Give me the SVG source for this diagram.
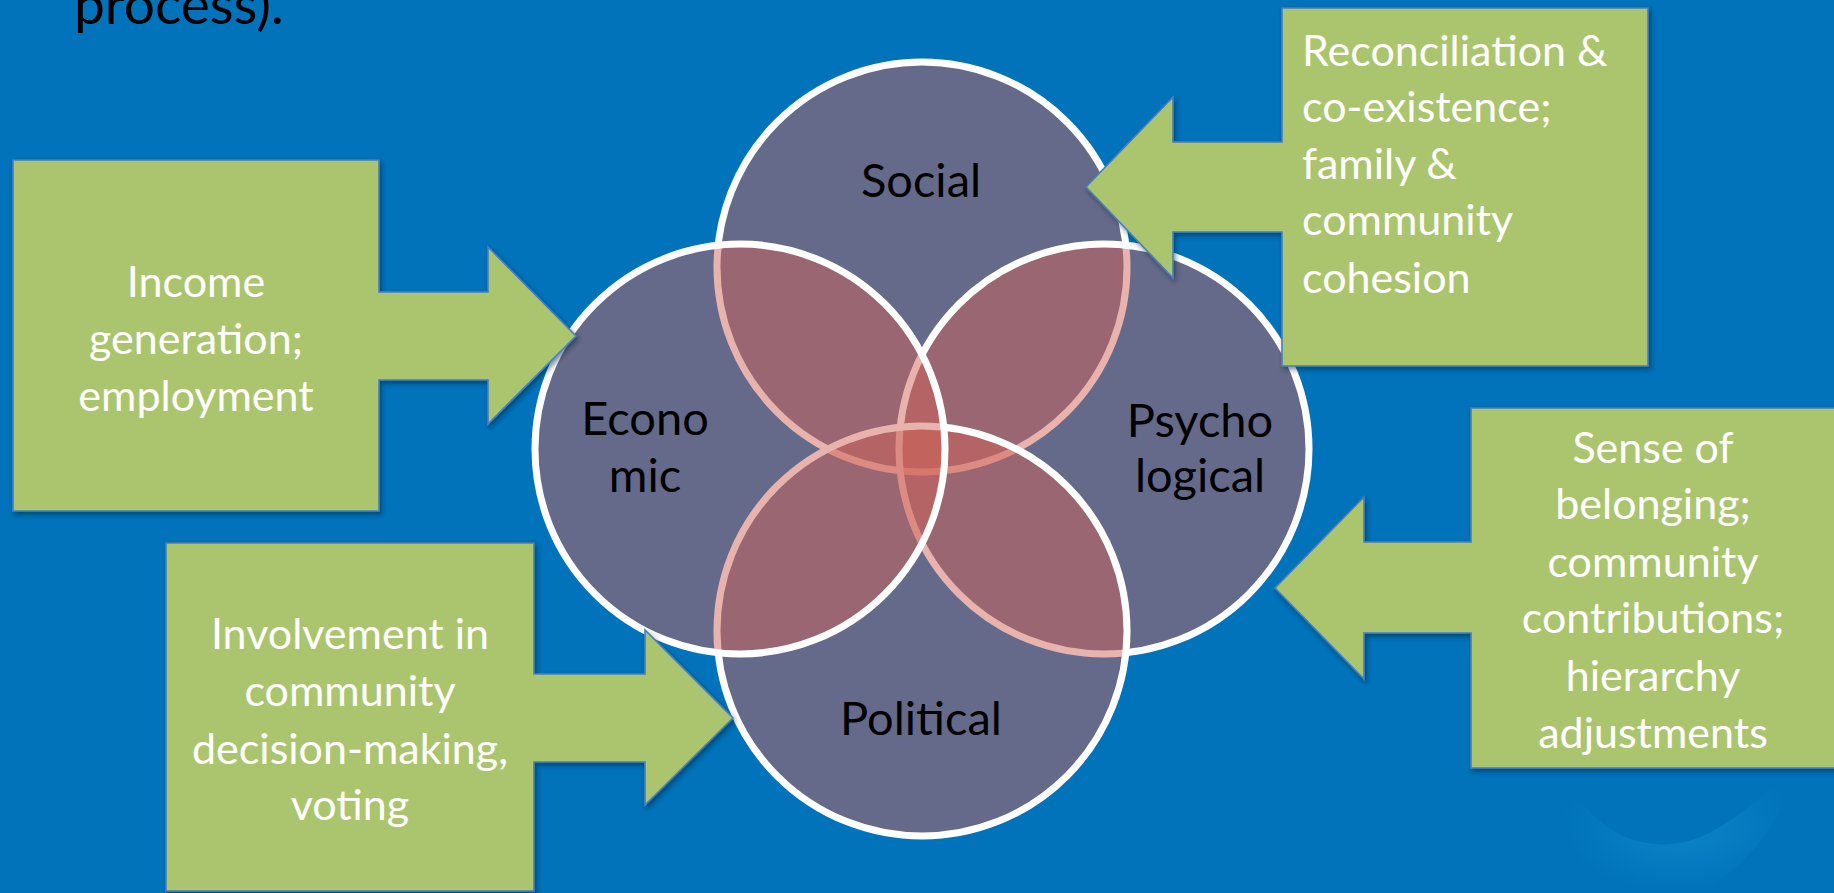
<svg xmlns="http://www.w3.org/2000/svg" width="1834" height="893" viewBox="0 0 1834 893">
  <defs>
    <style>
      .bg { fill: #0073bb; }
      .ring { fill: rgb(208,97,87); fill-opacity: 0.49; stroke: #ffffff; stroke-width: 7; }
      .callout { fill: #abc56e; stroke: #4a7ebb; stroke-width: 1.6; filter: url(#shadow); }
      .lbl { font-family: Lato, "Open Sans", sans-serif; font-size: 47px; fill: #000000; text-anchor: middle; }
      .note { font-family: Lato, "Open Sans", sans-serif; font-size: 43px; fill: #ffffff; }
      .mid { text-anchor: middle; }
      .head { font-family: Lato, "Open Sans", sans-serif; font-size: 55px; fill: #000000; }
    </style>
    <filter id="shadow" x="-10%" y="-10%" width="125%" height="125%">
      <feDropShadow dx="2" dy="3" stdDeviation="2.5" flood-color="#001a33" flood-opacity="0.5"/>
    </filter>
    <radialGradient id="swoosh" cx="0.5" cy="0.5" r="0.5">
      <stop offset="0" stop-color="#1a95d3" stop-opacity="0.5"/>
      <stop offset="1" stop-color="#1a95d3" stop-opacity="0"/>
    </radialGradient>
  </defs>

  <!-- slide background -->
  <rect class="bg" x="0" y="0" width="1834" height="893"/>
  <path d="M1560,760 C1585,835 1650,860 1705,835 C1745,815 1775,785 1800,760 C1790,800 1760,860 1700,893 L1600,893 C1575,860 1560,810 1560,760 Z" fill="url(#swoosh)"/>

  <!-- heading tail -->
  <text class="head" x="74" y="24">process).</text>

  <!-- four overlapping circles, stacked bottom to top -->
  <g id="social">
    <circle class="ring" cx="922" cy="267" r="205"/>
  </g>
  <g id="psychological">
    <circle class="ring" cx="1104" cy="449" r="205"/>
  </g>
  <g id="political">
    <circle class="ring" cx="922" cy="631" r="205"/>
  </g>
  <g id="economic">
    <circle class="ring" cx="740" cy="449" r="205"/>
  </g>

  <!-- circle labels -->
  <g id="circle-labels">
    <text class="lbl" x="921" y="197">Social</text>
    <text class="lbl" x="645" y="435">Econo</text>
    <text class="lbl" x="645" y="492">mic</text>
    <text class="lbl" x="1200" y="437">Psycho</text>
    <text class="lbl" x="1200" y="492">logical</text>
    <text class="lbl" x="921" y="735">Political</text>
  </g>

  <!-- arrow callouts pointing into the circles -->
  <g id="connectors">
    <g id="income">
      <path class="callout" d="M13,160 H379 V292 H488 V247 L576,336 L488,424 V380 H379 V511 H13 Z"/>
      <text class="note mid" x="196" y="297">Income</text>
      <text class="note mid" x="196" y="354">generation;</text>
      <text class="note mid" x="196" y="411">employment</text>
    </g>
    <g id="involvement">
      <path class="callout" d="M166,543 H534 V674 H645 V630 L733,718 L645,805 V762 H534 V891 H166 Z"/>
      <text class="note mid" x="350" y="649">Involvement in</text>
      <text class="note mid" x="350" y="706">community</text>
      <text class="note mid" x="350" y="764">decision-making,</text>
      <text class="note mid" x="350" y="820">voting</text>
    </g>
    <g id="reconciliation">
      <path class="callout" d="M1282,8 H1648 V366 H1282 V232 H1173 V278 L1086,187 L1173,97 V142 H1282 Z"/>
      <text class="note" x="1302" y="66">Reconciliation &amp;</text>
      <text class="note" x="1302" y="122">co-existence;</text>
      <text class="note" x="1302" y="179">family &amp;</text>
      <text class="note" x="1302" y="235">community</text>
      <text class="note" x="1302" y="293">cohesion</text>
    </g>
    <g id="belonging">
      <path class="callout" d="M1471,408 H1840 V768 H1471 V633 H1364 V679 L1275,588 L1364,497 V542 H1471 Z"/>
      <text class="note mid" x="1653" y="463">Sense of</text>
      <text class="note mid" x="1653" y="519">belonging;</text>
      <text class="note mid" x="1653" y="577">community</text>
      <text class="note mid" x="1653" y="633">contributions;</text>
      <text class="note mid" x="1653" y="691">hierarchy</text>
      <text class="note mid" x="1653" y="748">adjustments</text>
    </g>
  </g>
</svg>
